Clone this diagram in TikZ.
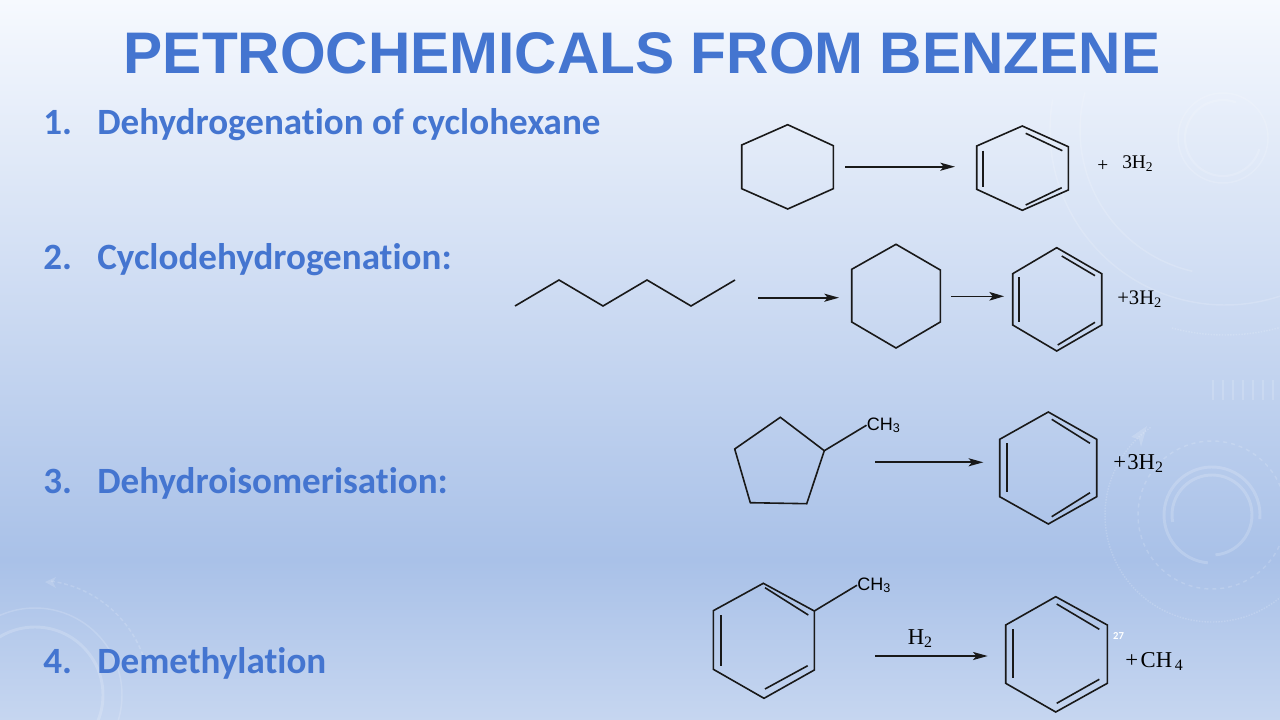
\documentclass[tikz,border=0pt]{standalone}
\usepackage{fontspec}
\setmainfont{Liberation Serif}
\newfontfamily\titlefont{Liberation Sans}
\newfontfamily\bodyfont[Ligatures=NoCommon]{Carlito}
\usetikzlibrary{arrows.meta}
\definecolor{slideblue}{HTML}{4475D0}
\definecolor{bgtop}{HTML}{F6F9FE}
\definecolor{bgmid}{HTML}{A9C1E8}
\definecolor{bgend}{HTML}{C6D6F0}
\tikzset{
    bond/.style={line width=1.2pt, black!90},
    rxn/.style={line width=1.3pt, black!90, -{Stealth[length=11pt, width=6pt, inset=2.5pt]}},
    rxnthin/.style={line width=0.8pt, black!90, -{Stealth[length=11pt, width=6.5pt, inset=2.5pt]}},
    heading/.style={inner sep=0pt, anchor=base, text=slideblue, font=\titlefont\bfseries\fontsize{44}{50}\selectfont},
    item/.style={inner sep=0pt, anchor=base west, text=slideblue, font=\bodyfont\bfseries\fontsize{27.8}{32}\selectfont},
    chem/.style={inner sep=0pt, anchor=base west, font=\fontsize{14.5}{16}\selectfont},
    chembig/.style={inner sep=0pt, anchor=base west, font=\fontsize{17}{19}\selectfont},
    group/.style={inner sep=0pt, anchor=base west, font=\titlefont\fontsize{13.5}{15}\selectfont},
    deco/.style={white, opacity=0.16, line width=1.1pt},
    decobold/.style={white, opacity=0.18, line width=2.2pt}
}
\begin{document}
\begin{tikzpicture}[x=0.75pt, y=-0.75pt]
    \useasboundingbox (0,0) rectangle (1280,720);
    \shade[top color=bgtop, bottom color=bgmid] (0,0) rectangle (1280,560);
    \shade[top color=bgmid, bottom color=bgend] (0,559.5) rectangle (1280,720);

    % faint rings behind the slide
    \begin{scope}
        \clip (0,0) rectangle (1280,720);
        \draw[deco] (1223,138) circle (45);
        \draw[deco, line width=1.6pt] (1223,138) ++(17:38) arc (17:290:38);
        \draw[deco] (1225,130) ++(190:175) arc (190:0:175);
        \draw[deco] (1225,130) ++(195:145) arc (195:103:145);
        \draw[deco, densely dotted] (1225,130) ++(105:205) arc (105:60:205);
        \foreach \x in {1213,1223,...,1273}
            \draw[deco] (\x,380) -- (\x,400);
        \draw[decobold] (1212,515) ++(5:48) arc (5:-265:48);
        \draw[decobold] (1212,515) ++(170:40) arc (170:445:40);
        \draw[deco, dashed] (1212,515) circle (74);
        \draw[deco, densely dotted] (1212,515) ++(235:107) arc (235:40:107);
        \fill[white, opacity=0.16] (1147,426) -- (1131,437) -- (1139,439) -- (1141,447) -- cycle;
        \draw[decobold] (35,695) circle (68);
        \draw[deco] (35,695) circle (87);
        \draw[deco, densely dashed] (35,695) ++(-82:115) arc (-82:-12:115);
        \fill[white, opacity=0.16] (45,582) -- (56,577) -- (53,582) -- (56,588) -- cycle;
    \end{scope}

    % title and list
    \node[heading] (title) at (642,74) {PETROCHEMICALS FROM BENZENE};
    \node[item] (n1) at (43,135) {1.};
    \node[item] (t1) at (97,135) {Dehydrogenation of cyclohexane};
    \node[item] (n2) at (43,269) {2.};
    \node[item] (t2) at (97,269) {Cyclodehydrogenation:};
    \node[item] (n3) at (43,493) {3.};
    \node[item] (t3) at (97,493) {Dehydroisomerisation:};
    \node[item] (n4) at (43,673) {4.};
    \node[item] (t4) at (97,673) {Demethylation};

    % 1
    \draw[bond] (787.7,124.7) -- (833.3,145.7) -- (833.3,188.7) -- (787.7,209) -- (741.7,188.7) -- (741.7,145) -- cycle;
    \coordinate (a1s) at (845,166.7);
    \coordinate (a1e) at (955,166.7);
    \draw[rxn] (a1s) -- (a1e);
    \draw[bond] (1022.3,126) -- (1068.3,146.7) -- (1068.3,190) -- (1022.3,210.3) -- (976.7,189.3) -- (976.7,146) -- cycle;
    \draw[bond] (1025.7,133.3) -- (1062.3,150.7);
    \draw[bond] (983,150.7) -- (983,186.7);
    \draw[bond] (1025.7,205) -- (1061.7,187.7);
    \node[chem] (p1) at (1097,171.5) {+};
    \node[chem] (h1) at (1122,168.5) {3H\textsubscript{2}};

    % 2
    \draw[bond] (515,306) -- (559,280) -- (603,306) -- (647,280) -- (691,306) -- (735,280);
    \coordinate (a2s) at (758,297.7);
    \coordinate (a2e) at (839,297.7);
    \draw[rxn] (a2s) -- (a2e);
    \draw[bond] (896,244.3) -- (940.3,270) -- (940.3,322) -- (896,348) -- (851.7,322) -- (851.7,269.3) -- cycle;
    \coordinate (b2s) at (951,296.3);
    \coordinate (b2e) at (1004,296.3);
    \draw[rxnthin] (b2s) -- (b2e);
    \draw[bond] (1056.7,247.7) -- (1101.7,273.7) -- (1101.7,325) -- (1056.7,351) -- (1012.7,325) -- (1012.7,273.7) -- cycle;
    \draw[bond] (1061.7,256) -- (1095,275.7);
    \draw[bond] (1019,277.3) -- (1019,321.7);
    \draw[bond] (1057.7,345) -- (1095,322.3);
    \node[inner sep=0pt, anchor=base west, font=\fontsize{15.5}{17}\selectfont] (h2) at (1117,304.5) {+3H\textsubscript{2}};

    % 3
    \draw[bond] (780.3,417.3) -- (824.3,450.7) -- (806.7,503.7) -- (750.3,502.7) -- (734.7,449) -- cycle;
    \node[group] (ch3a) at (866.5,430) {CH\textsubscript{3}};
    \coordinate (ra) at (824.3,450.7);
    \draw[bond] (ra) -- (ch3a.west);
    \coordinate (a3s) at (875,462.3);
    \coordinate (a3e) at (983.3,462.3);
    \draw[rxn] (a3s) -- (a3e);
    \draw[bond] (1048.3,412) -- (1096.7,439.3) -- (1096.7,496.7) -- (1048.3,524) -- (999.7,496.7) -- (999.7,439.3) -- cycle;
    \draw[bond] (1051.7,419.3) -- (1090,443.3);
    \draw[bond] (1006.7,443.3) -- (1006.7,491.7);
    \draw[bond] (1051.7,516.7) -- (1090,492.7);
    \node[chembig] (h3) at (1113,469.5) {+\kern1pt3H\textsubscript{2}};

    % 4
    \draw[bond] (763.3,583.3) -- (814.3,611) -- (814.3,670) -- (764,698.3) -- (713.3,669.3) -- (713.3,610.7) -- cycle;
    \draw[bond] (765,587.7) -- (808.3,615);
    \draw[bond] (720.7,615) -- (720.7,665.7);
    \draw[bond] (765,689) -- (807.7,665.7);
    \node[group] (ch3b) at (857,590) {CH\textsubscript{3}};
    \coordinate (rb) at (814.3,611);
    \draw[bond] (rb) -- (ch3b.west);
    \coordinate (a4s) at (875,656);
    \coordinate (a4e) at (987.7,656);
    \draw[rxn] (a4s) -- (a4e);
    \node[chembig] (h4) at (907.5,644.5) {H\textsubscript{2}};
    \draw[bond] (1055.7,596.7) -- (1107.3,625) -- (1107.3,683.3) -- (1055.7,712) -- (1005.7,683.3) -- (1005.7,625) -- cycle;
    \draw[bond] (1056.7,604) -- (1099.3,629.3);
    \draw[bond] (1013,629.3) -- (1013,678.3);
    \draw[bond] (1056.7,703.3) -- (1099.3,679.3);
    \node[chembig] (m4) at (1125,667) {+\kern2ptCH\kern2pt\textsubscript{4}};
    \node[inner sep=0pt, text=white, font=\bodyfont\bfseries\fontsize{8}{9}\selectfont] (pg) at (1118.5,636) {27};
\end{tikzpicture}
\end{document}
